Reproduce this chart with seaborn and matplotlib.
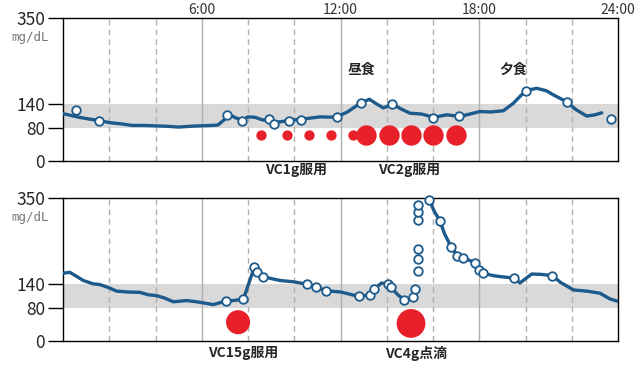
import numpy as np
import pandas as pd
import seaborn as sns
import matplotlib
matplotlib.use('Agg')
import matplotlib.pyplot as plt

sns.set_style('white')
plt.rcParams['font.family'] = ['Noto Sans CJK JP', 'DejaVu Sans']

# ---------------- data ----------------
top_line_t = [0, 0.3, 0.7, 1.1, 1.56, 2.0, 2.5, 3.0, 3.5, 4.0, 4.5, 5.0, 5.5, 5.9, 6.4, 6.7,
              6.95, 7.2, 7.45, 7.75, 8.0, 8.3, 8.6, 8.95, 9.12, 9.4, 9.76, 10.25, 10.7, 11.1,
              11.8, 12.3, 12.87, 13.25, 13.55, 13.85, 14.26, 14.6, 15.0, 15.5, 16.04, 16.6,
              17.17, 17.6, 18.03, 18.5, 19.04, 19.47, 20.0, 20.48, 20.9, 21.2, 21.78, 22.2,
              22.65, 23.0, 23.3]
top_line_v = [116, 112, 107, 103, 99, 94, 91, 87, 87, 86, 85, 83, 85, 86, 87, 88,
              100, 114, 106, 100, 108, 107, 101, 98, 95, 96, 99, 102, 105, 108,
              107, 120, 142, 151, 140, 130, 139, 128, 117, 115, 107, 113,
              109, 115, 121, 120, 123, 141, 172, 178, 172, 162, 145, 125,
              110, 113, 118]
top_pts_t = [0.56, 1.56, 7.08, 7.75, 8.92, 9.14, 9.79, 10.28, 11.83, 12.87, 14.24, 16.01, 17.14, 20.0, 21.78, 23.7]
top_pts_v = [125, 99, 112, 97, 102, 91, 99, 101, 107, 141, 139, 106, 110, 172, 145, 103]

top_small_t = [8.56, 9.68, 10.64, 11.6, 12.52]
top_small_v = [64, 64, 64, 64, 64]
top_big_t = [13.12, 14.08, 15.05, 15.99, 17.0]
top_big_v = [64, 64, 64, 64, 64]

bot_line1_t = [0, 0.3, 0.88, 1.3, 1.6, 2.0, 2.32, 2.8, 3.33, 3.7, 4.05, 4.4, 4.77, 5.35, 5.9,
               6.5, 7.05, 7.36, 7.8, 8.27, 8.4, 8.66, 9.4, 9.96, 10.56, 10.94, 11.37, 12.0,
               12.81, 13.28, 13.45, 13.78, 14.07, 14.18, 14.5, 14.76, 15.15, 15.22]
bot_line1_v = [166, 168, 148, 140, 138, 130, 122, 120, 119, 113, 111, 105, 96, 99, 95,
               89, 98, 99, 102, 180, 168, 157, 148, 145, 139, 133, 123, 120,
               109, 113, 127, 142, 139, 131, 112, 101, 107, 127]
bot_line2_t = [15.6, 15.84, 16.05, 16.3, 16.5, 16.78, 17.05, 17.31, 17.55, 17.82, 17.99, 18.17,
               18.6, 19.0, 19.51, 19.76, 20.27, 20.7, 21.16, 21.5, 22.07, 22.65, 23.22, 23.65, 24.0]
bot_line2_v = [355, 345, 318, 294, 262, 231, 209, 204, 198, 192, 175, 166,
               160, 157, 154, 142, 164, 163, 160, 144, 125, 122, 117, 103, 97]
bot_pts_t = [7.05, 7.8, 8.27, 8.4, 8.66, 10.56, 10.94, 11.37, 12.81, 13.28, 13.45, 14.07, 14.18,
             14.76, 15.15, 15.22, 15.34, 15.34, 15.34, 15.34, 15.34, 15.34, 15.84, 16.3,
             16.78, 17.05, 17.31, 17.82, 17.99, 18.17, 19.51, 21.16]
bot_pts_v = [98, 102, 180, 168, 157, 139, 133, 123, 109, 113, 127, 139, 131,
             101, 107, 127, 171, 200, 225, 296, 316, 333, 345, 294,
             231, 209, 204, 192, 175, 166, 154, 160]
bot_big_t = [7.57, 15.05]
bot_big_v = [46, 43]
bot_big_s = [300, 430]

time_labels = ['6:00', '12:00', '18:00', '24:00']
time_label_pos = [6, 12, 18, 24]
y_ticks = [0, 80, 140, 350]

BLUE = '#1d5a8c'
RED = '#e8202a'

fig = plt.figure(figsize=(6.4, 3.68), dpi=100)
ax1 = fig.add_axes([63/640, 1-161/368, 555/640, 143/368])
ax2 = fig.add_axes([63/640, 1-341/368, 555/640, 143/368])


def style(ax):
    ax.set_xlim(0, 24)
    ax.set_ylim(0, 350)
    ax.axhspan(80, 140, color='#d9d9d9', zorder=0, lw=0)
    for h in range(2, 24, 2):
        if h % 6 == 0:
            ax.axvline(h, color='#b0b0b0', lw=1, zorder=1)
        else:
            ax.axvline(h, color='#b0b0b0', lw=1, ls=(0, (4, 3)), zorder=1)
    ax.set_yticks(y_ticks)
    ax.set_yticklabels([str(v) for v in y_ticks])
    ax.tick_params(axis='y', length=11, width=1, direction='out', labelsize=12.5,
                   pad=2, color='black', left=True)
    ax.set_xticks([])
    for s in ax.spines.values():
        s.set_color('black')
        s.set_linewidth(1)
    ax.set_xlabel('')
    ax.set_ylabel('')
    ax.text(-0.025, 303, 'mg/dL', transform=ax.get_yaxis_transform(), ha='right',
            va='center', fontsize=9, color='#777777', family='DejaVu Sans Mono')


# ---- top panel ----
sns.lineplot(x=top_line_t, y=top_line_v, ax=ax1, color=BLUE, lw=2.4, sort=False, zorder=3)
sns.scatterplot(x=top_small_t, y=top_small_v, ax=ax1, color=RED, s=55, linewidth=0, zorder=3)
sns.scatterplot(x=top_big_t, y=top_big_v, ax=ax1, color=RED, s=215, linewidth=0, zorder=3)
sns.scatterplot(x=top_pts_t, y=top_pts_v, ax=ax1, color='white', edgecolor=BLUE, s=38,
                linewidth=1.3, zorder=4, clip_on=False)
style(ax1)
for lab, pos in zip(time_labels, time_label_pos):
    ax1.text(pos, 1.056, lab, transform=ax1.get_xaxis_transform(), ha='center', va='center',
             fontsize=10, color='#333333')
ax1.text(12.92, 223, '昼食', ha='center', va='center', fontsize=10, fontweight='bold')
ax1.text(19.45, 223, '夕食', ha='center', va='center', fontsize=10, fontweight='bold')
ax1.text(10.1, -23, 'VC1g服用', ha='center', va='center', fontsize=10, fontweight='bold', clip_on=False)
ax1.text(14.95, -23, 'VC2g服用', ha='center', va='center', fontsize=10, fontweight='bold', clip_on=False)

# ---- bottom panel ----
sns.lineplot(x=bot_line1_t, y=bot_line1_v, ax=ax2, color=BLUE, lw=2.4, sort=False, zorder=3)
sns.lineplot(x=bot_line2_t, y=bot_line2_v, ax=ax2, color=BLUE, lw=2.4, sort=False, zorder=3)
sns.scatterplot(x=bot_big_t, y=bot_big_v, ax=ax2, color=RED, size=bot_big_s, sizes=(300, 430),
                linewidth=0, zorder=3, legend=False)
sns.scatterplot(x=bot_pts_t, y=bot_pts_v, ax=ax2, color='white', edgecolor=BLUE, s=38,
                linewidth=1.3, zorder=4, clip_on=False)
style(ax2)
ax2.text(7.78, -30, 'VC15g服用', ha='center', va='center', fontsize=10, fontweight='bold', clip_on=False)
ax2.text(15.26, -30, 'VC4g点滴', ha='center', va='center', fontsize=10, fontweight='bold', clip_on=False)

fig.savefig('out.png', dpi=100)
